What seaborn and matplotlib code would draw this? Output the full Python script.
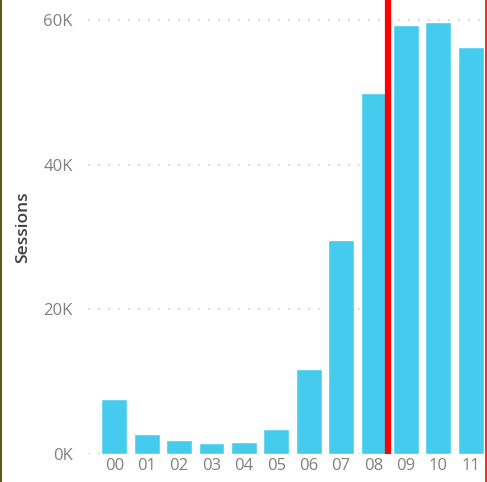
import matplotlib
matplotlib.use("Agg")
import matplotlib.pyplot as plt
import matplotlib.lines as mlines
import pandas as pd
import seaborn as sns
from matplotlib.ticker import FuncFormatter

hours = ['00', '01', '02', '03', '04', '05', '06', '07', '08', '09', '10', '11']
sessions = [7600, 2800, 1900, 1500, 1600, 3500, 11800, 29600, 49900, 59300, 59700, 56300]
marker_hour = 8.45

df = pd.DataFrame({'Hour': hours, 'Sessions': sessions})

sns.set_style("white")
plt.rcParams['font.family'] = ['Open Sans', 'DejaVu Sans']

fig = plt.figure(figsize=(4.87, 4.82), dpi=100)
ax = fig.add_axes([88 / 487, 28 / 482, 399 / 487, 454 / 482])

sns.barplot(data=df, x='Hour', y='Sessions', color='#45CBED', width=0.8,
            saturation=1, ax=ax, zorder=2)

ax.set_xlim(-0.81, 11.5)
ax.set_ylim(0, 62760)
ax.set_yticks([0, 20000, 40000, 60000])
ax.yaxis.set_major_formatter(FuncFormatter(lambda v, p: f'{int(v / 1000)}K'))
ax.grid(axis='y', linestyle=(0, (1, 5)), color='#d0d0d0', linewidth=1.2, zorder=0)
ax.tick_params(axis='both', length=0, labelsize=12, colors='#808080')
ax.tick_params(axis='y', pad=11)
ax.tick_params(axis='x', pad=3)
ax.set_xlabel('')
ax.set_ylabel('Sessions', fontsize=12.5, color='#404040', fontweight='semibold', labelpad=9)
for s in ax.spines.values():
    s.set_visible(False)

ax.axvline(marker_hour, color='#ff0000', linewidth=4.5, zorder=3)

# frame edges of the screenshot
fig.add_artist(mlines.Line2D([0.002, 0.002], [0, 1], color='#5c5a1e', linewidth=1.5))
fig.add_artist(mlines.Line2D([0.998, 0.998], [0, 1], color='#ff0000', linewidth=1.2))

fig.savefig('out.png', dpi=100)
